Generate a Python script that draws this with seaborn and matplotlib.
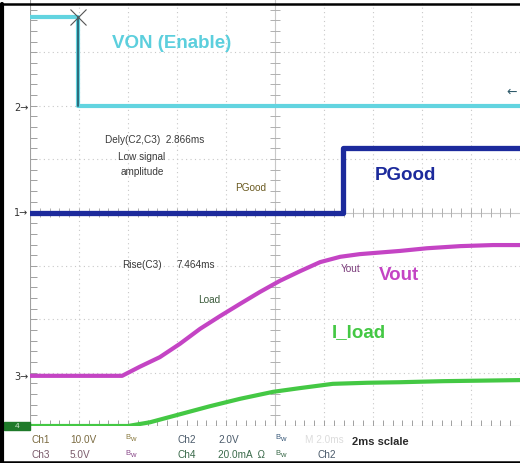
import numpy as np
import pandas as pd
import matplotlib.pyplot as plt
import seaborn as sns
from matplotlib.lines import Line2D

# scope traces, in screen divisions (x: 10 div, y: 8 div)
von_x = [0.0, 0.98, 0.98, 10.0]
von_y = [7.66, 7.66, 6.0, 6.0]

pgood_x = [0.0, 6.39, 6.39, 10.0]
pgood_y = [4.0, 4.0, 5.2, 5.2]

vout_x = [0.0, 1.88, 2.24, 2.65, 3.06, 3.47, 3.88, 4.29, 4.69, 5.10, 5.51, 5.92,
          6.33, 6.73, 7.55, 8.10, 8.78, 9.45, 10.0]
vout_y = [0.94, 0.94, 1.11, 1.29, 1.54, 1.82, 2.06, 2.29, 2.51, 2.72, 2.90, 3.07,
          3.17, 3.22, 3.28, 3.33, 3.37, 3.39, 3.39]

iload_x = [0.0, 2.00, 2.45, 3.06, 3.67, 4.29, 4.96, 5.51, 6.18, 6.88, 7.55,
           8.43, 10.0]
iload_y = [0.0, 0.0, 0.07, 0.22, 0.37, 0.51, 0.64, 0.71, 0.79, 0.81, 0.82,
           0.84, 0.86]

# bottom status bar
status_row1 = [("Ch1", 31, "#7a6a40"), ("10.0V", 70, "#7a6a40"), ("Ch2", 177, "#4a5a6a"),
               ("2.0V", 218, "#4a5a6a")]
status_row2 = [("Ch3", 31, "#7a5a6a"), ("5.0V", 70, "#7a5a6a"), ("Ch4", 177, "#3a6a4a"),
               ("20.0mA  \u03a9", 218, "#3a6a4a"), ("Ch2", 317, "#4a5a6a")]

sns.set_style("white")
plt.rcParams['font.family'] = ['Liberation Sans', 'DejaVu Sans']

W, H = 520, 464
fig = plt.figure(figsize=(W / 100, H / 100), dpi=100)
fig.patch.set_facecolor("white")


def fx(px):
    return px / W


def fy(py):
    return 1 - py / H


ax = fig.add_axes([fx(30), fy(427), fx(520) - fx(30), fy(0) - fy(427)])
ax.set_xlim(0, 10)
ax.set_ylim(0, 8)
ax.axis("off")

# graticule
grid_c = "#c8c8c8"
for gx in range(1, 10):
    if gx != 5:
        ax.axvline(gx, color=grid_c, lw=0.8, ls=(0, (1, 3)), zorder=0)
for gy in range(1, 8):
    if gy != 4:
        ax.axhline(gy, color=grid_c, lw=0.8, ls=(0, (1, 3)), zorder=0)
ax.axvline(5, color=grid_c, lw=0.8, zorder=0)
ax.axhline(4, color=grid_c, lw=0.8, zorder=0)
ax.axvline(0, color="#a0a0a0", lw=0.8, zorder=0)
ax.axhline(0, color="#a0a0a0", lw=0.8, zorder=0)
minor_x = np.arange(0.2, 10, 0.2)
minor_y = np.arange(0.2, 8, 0.2)
ax.vlines(minor_x, 4 - 0.08, 4 + 0.08, color="#b0b0b0", lw=0.7, zorder=0)
ax.hlines(minor_y, 5 - 0.1, 5 + 0.1, color="#b0b0b0", lw=0.7, zorder=0)
ax.vlines(minor_x, 0, 0.12, color="#a0a0a0", lw=0.7, zorder=0)
ax.hlines(minor_y, 0, 0.14, color="#a0a0a0", lw=0.7, zorder=0)

# traces
traces = [
    (iload_x, iload_y, "#44c844", 3.0),
    (vout_x, vout_y, "#c444c4", 3.0),
    (pgood_x, pgood_y, "#1c2a9c", 3.8),
    (von_x, von_y, "#62d4e0", 3.0),
]
for xs, ys, c, lw in traces:
    df = pd.DataFrame({"x": xs, "y": ys})
    sns.lineplot(data=df, x="x", y="y", ax=ax, color=c, lw=lw, sort=False,
                 estimator=None, zorder=3)
ax.plot([von_x[1], von_x[2]], [von_y[1], von_y[2]], color="#2f6a7a", lw=1.4, zorder=4)
ax.plot(von_x[1], von_y[1], marker="x", ms=11, mew=0.8, color="#555555", zorder=5)
ax.set_xlabel("")
ax.set_ylabel("")

# big labels
big = dict(fontsize=13.5, fontweight="bold", ha="center", va="center")
fig.text(fx(172), fy(44), "VON (Enable)", color="#5ccfdd", **big)
fig.text(fx(405), fy(175), "PGood", color="#1c2a9c", **big)
fig.text(fx(399), fy(276), "Vout", color="#c444c4", **big)
fig.text(fx(359), fy(333), "I_load", color="#44c844", **big)

# small measurement labels
small = dict(fontsize=7.2, va="center", color="#3a3a3a")
fig.text(fx(105), fy(140), "Dely(C2,C3)  2.866ms", ha="left", **small)
fig.text(fx(142), fy(157), "Low signal", ha="center", **small)
fig.text(fx(142), fy(172), "amplitude", ha="center", **small)
fig.text(fx(235), fy(188), "PGood", ha="left", fontsize=7.2, va="center", color="#6a5a20")
fig.text(fx(122), fy(265), "Rise(C3)", ha="left", **small)
fig.text(fx(177), fy(265), "7.464ms", ha="left", **small)
fig.text(fx(198), fy(300), "Load", ha="left", fontsize=7.2, va="center", color="#3a5a3a")
fig.text(fx(341), fy(269), "Yout", ha="left", fontsize=7.2, va="center", color="#7a3a7a")

# channel markers
for lab, py in [("2", 108), ("1", 213), ("3", 377)]:
    fig.text(fx(14), fy(py), lab + "\u2192", fontsize=7, va="center", ha="left", color="#333333",
             family=["DejaVu Sans"])
fig.text(fx(506), fy(92), "\u2190", fontsize=9, va="center", ha="left", color="#2f5a6a",
         family=["DejaVu Sans"])
fig.add_artist(plt.Rectangle((fx(4), fy(431)), fx(26), fy(423) - fy(431),
                             transform=fig.transFigure, color="#1f7a2a", zorder=2))
fig.text(fx(17), fy(427), "4", fontsize=6, va="center", ha="center", color="#cfe8cf")

# status bar
for txt, px, c in status_row1:
    fig.text(fx(px), fy(440), txt, fontsize=7.2, va="center", ha="left", color=c)
for txt, px, c in status_row2:
    fig.text(fx(px), fy(455), txt, fontsize=7.2, va="center", ha="left", color=c)
for px, py, c in [(125, 438, "#8a7a40"), (125, 454, "#8a4a8a"), (275, 438, "#3a5a7a"),
                  (275, 454, "#3a6a4a")]:
    fig.text(fx(px), fy(py), "B", fontsize=5.5, va="center", ha="left", color=c)
    fig.text(fx(px + 5), fy(py + 2), "w", fontsize=5.5, va="center", ha="left", color=c)
fig.text(fx(305), fy(440), "M 2.0ms", fontsize=7.2, va="center", ha="left", color="#dcdcdc")
fig.text(fx(352), fy(442), "2ms sclale", fontsize=8, fontweight="bold", va="center",
         ha="left", color="#2a2a2a")

# outer frame
fig.add_artist(Line2D([fx(1.5), fx(1.5)], [fy(5), fy(463)], color="black", lw=3,
                      transform=fig.transFigure))
fig.add_artist(Line2D([0, 1], [fy(5), fy(5)], color="black", lw=1.8,
                      transform=fig.transFigure))
fig.add_artist(Line2D([0, 1], [fy(462.5), fy(462.5)], color="black", lw=1.8,
                      transform=fig.transFigure))

fig.savefig("out.png", dpi=100, facecolor="white")
